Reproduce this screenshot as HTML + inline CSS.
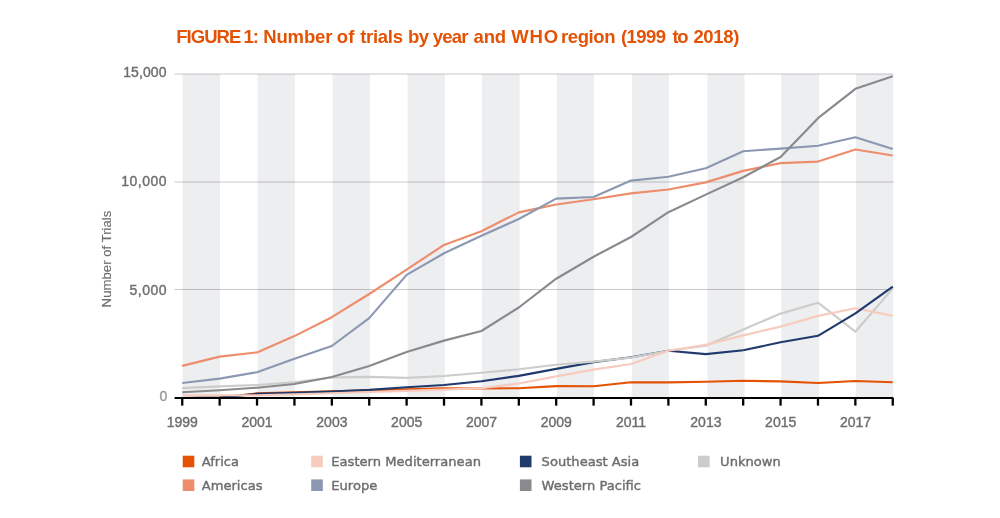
<!DOCTYPE html>
<html lang="en"><head><meta charset="utf-8"><title>FIGURE 1: Number of trials by year and WHO region (1999 to 2018)</title>
<style>html,body{margin:0;padding:0;background:#fff}body{width:1000px;height:518px;overflow:hidden}</style></head>
<body>
<svg width="1000" height="518" viewBox="0 0 1000 518" style="display:block">
<rect width="1000" height="518" fill="#fff"/>
<rect x="182.65" y="74" width="37.35" height="324" fill="#EDEEF0"/>
<rect x="257.6" y="74" width="37.40" height="324" fill="#EDEEF0"/>
<rect x="332.6" y="74" width="37.40" height="324" fill="#EDEEF0"/>
<rect x="407.6" y="74" width="37.40" height="324" fill="#EDEEF0"/>
<rect x="482" y="74" width="37.60" height="324" fill="#EDEEF0"/>
<rect x="557" y="74" width="37.00" height="324" fill="#EDEEF0"/>
<rect x="632" y="74" width="37.00" height="324" fill="#EDEEF0"/>
<rect x="707.4" y="74" width="37.10" height="324" fill="#EDEEF0"/>
<rect x="781.3" y="74" width="37.70" height="324" fill="#EDEEF0"/>
<rect x="856.1" y="74" width="37.10" height="324" fill="#EDEEF0"/>
<line x1="174.5" x2="893.3" y1="74" y2="74" stroke="#000" stroke-opacity="0.21" stroke-width="1"/>
<line x1="174.5" x2="893.3" y1="182" y2="182" stroke="#000" stroke-opacity="0.21" stroke-width="1"/>
<line x1="174.5" x2="893.3" y1="289.5" y2="289.5" stroke="#000" stroke-opacity="0.21" stroke-width="1"/>
<polyline points="182.2,398.0 219.6,397.6 257.0,393.4 294.4,392.4 331.8,391.2 369.2,390.4 406.6,389.3 444.0,388.3 481.4,388.5 518.8,388.2 556.2,386.1 593.6,386.2 631.0,382.3 668.4,382.3 705.8,381.7 743.2,380.7 780.6,381.4 818.0,383.0 855.4,381.0 892.8,382.2" fill="none" stroke="#E35205" stroke-width="2.15" stroke-linejoin="round" stroke-linecap="butt"/>
<polyline points="182.2,398.0 219.6,397.6 257.0,393.9 294.4,392.9 331.8,391.5 369.2,389.9 406.6,387.2 444.0,385.0 481.4,381.2 518.8,375.9 556.2,368.9 593.6,362.1 631.0,357.2 668.4,350.8" fill="none" stroke="#1F3A6C" stroke-width="2.15" stroke-linejoin="round" stroke-linecap="butt"/>
<polyline points="182.2,388.1 219.6,386.4 257.0,385.0 294.4,382.2 331.8,377.5 369.2,376.9 406.6,377.9 444.0,376.0 481.4,372.8 518.8,369.3 556.2,364.8 593.6,361.6 631.0,357.6 668.4,350.8 705.8,345.7 743.2,329.5 780.6,313.6 818.0,302.7 855.4,331.7 892.8,288.4" fill="none" stroke="#CCCCCA" stroke-width="2.15" stroke-linejoin="round" stroke-linecap="butt"/>
<polyline points="668.4,350.8 705.8,354.1 743.2,350.2" fill="none" stroke="#1F3A6C" stroke-width="2.15" stroke-linejoin="round" stroke-linecap="butt"/>
<polyline points="182.2,395.2 219.6,395.3 257.0,395.3 294.4,394.4 331.8,393.3 369.2,392.0 406.6,390.9 444.0,389.6 481.4,388.3 518.8,383.5 556.2,376.4 593.6,369.6 631.0,364.0 668.4,350.8 705.8,344.9 743.2,335.4 780.6,326.6 818.0,315.9 855.4,308.3 892.8,315.9" fill="none" stroke="#F7CBBD" stroke-width="2.15" stroke-linejoin="round" stroke-linecap="butt"/>
<polyline points="743.2,350.2 780.6,342.3 818.0,335.8 855.4,313.4 892.8,286.6" fill="none" stroke="#1F3A6C" stroke-width="2.15" stroke-linejoin="round" stroke-linecap="butt"/>
<polyline points="182.2,365.9 219.6,356.6 257.0,352.4 294.4,336.1 331.8,317.2 369.2,294.0 406.6,269.6 444.0,244.9 481.4,231.2 518.8,212.4 556.2,204.5 593.6,199.3 631.0,193.4 668.4,189.5 705.8,182.4 743.2,170.9 780.6,163.1 818.0,161.6 855.4,149.5 892.8,155.5" fill="none" stroke="#EE8D6C" stroke-width="2.15" stroke-linejoin="round" stroke-linecap="butt"/>
<polyline points="182.2,383.0 219.6,378.6 257.0,372.2 294.4,358.8 331.8,346.0 369.2,318.1 406.6,274.9 444.0,253.3 481.4,235.8 518.8,219.0 556.2,198.6 593.6,197.0 631.0,180.6 668.4,176.8 705.8,168.3 743.2,151.2 780.6,148.6 818.0,145.8 855.4,137.3 892.8,149.0" fill="none" stroke="#8C98B1" stroke-width="2.15" stroke-linejoin="round" stroke-linecap="butt"/>
<polyline points="182.2,392.2 219.6,390.3 257.0,387.7 294.4,384.0 331.8,377.0 369.2,366.0 406.6,352.0 444.0,340.6 481.4,331.0 518.8,307.5 556.2,278.7 593.6,256.7 631.0,237.0 668.4,212.2 705.8,194.6 743.2,177.2 780.6,157.0 818.0,118.2 855.4,88.8 892.8,76.3" fill="none" stroke="#898A8D" stroke-width="2.15" stroke-linejoin="round" stroke-linecap="butt"/>
<line x1="174.6" x2="893.4" y1="398" y2="398" stroke="#000" stroke-width="2.1"/>
<line x1="182.25" x2="182.25" y1="398" y2="405.6" stroke="#000" stroke-width="2.3"/>
<line x1="219.65" x2="219.65" y1="398" y2="405.6" stroke="#000" stroke-width="2.3"/>
<line x1="257.04" x2="257.04" y1="398" y2="405.6" stroke="#000" stroke-width="2.3"/>
<line x1="294.44" x2="294.44" y1="398" y2="405.6" stroke="#000" stroke-width="2.3"/>
<line x1="331.83" x2="331.83" y1="398" y2="405.6" stroke="#000" stroke-width="2.3"/>
<line x1="369.23" x2="369.23" y1="398" y2="405.6" stroke="#000" stroke-width="2.3"/>
<line x1="406.62" x2="406.62" y1="398" y2="405.6" stroke="#000" stroke-width="2.3"/>
<line x1="444.02" x2="444.02" y1="398" y2="405.6" stroke="#000" stroke-width="2.3"/>
<line x1="481.41" x2="481.41" y1="398" y2="405.6" stroke="#000" stroke-width="2.3"/>
<line x1="518.81" x2="518.81" y1="398" y2="405.6" stroke="#000" stroke-width="2.3"/>
<line x1="556.20" x2="556.20" y1="398" y2="405.6" stroke="#000" stroke-width="2.3"/>
<line x1="593.60" x2="593.60" y1="398" y2="405.6" stroke="#000" stroke-width="2.3"/>
<line x1="630.99" x2="630.99" y1="398" y2="405.6" stroke="#000" stroke-width="2.3"/>
<line x1="668.38" x2="668.38" y1="398" y2="405.6" stroke="#000" stroke-width="2.3"/>
<line x1="705.78" x2="705.78" y1="398" y2="405.6" stroke="#000" stroke-width="2.3"/>
<line x1="743.18" x2="743.18" y1="398" y2="405.6" stroke="#000" stroke-width="2.3"/>
<line x1="780.57" x2="780.57" y1="398" y2="405.6" stroke="#000" stroke-width="2.3"/>
<line x1="817.97" x2="817.97" y1="398" y2="405.6" stroke="#000" stroke-width="2.3"/>
<line x1="855.36" x2="855.36" y1="398" y2="405.6" stroke="#000" stroke-width="2.3"/>
<line x1="892.76" x2="892.76" y1="398" y2="405.6" stroke="#000" stroke-width="2.3"/>
<text x="182.3" y="426.6" text-anchor="middle" font-family="'Liberation Sans', sans-serif" font-size="14" fill="#6D6E71" stroke="#6D6E71" stroke-width="0.4">1999</text>
<text x="257.1" y="426.6" text-anchor="middle" font-family="'Liberation Sans', sans-serif" font-size="14" fill="#6D6E71" stroke="#6D6E71" stroke-width="0.4">2001</text>
<text x="331.9" y="426.6" text-anchor="middle" font-family="'Liberation Sans', sans-serif" font-size="14" fill="#6D6E71" stroke="#6D6E71" stroke-width="0.4">2003</text>
<text x="406.7" y="426.6" text-anchor="middle" font-family="'Liberation Sans', sans-serif" font-size="14" fill="#6D6E71" stroke="#6D6E71" stroke-width="0.4">2005</text>
<text x="481.5" y="426.6" text-anchor="middle" font-family="'Liberation Sans', sans-serif" font-size="14" fill="#6D6E71" stroke="#6D6E71" stroke-width="0.4">2007</text>
<text x="556.3" y="426.6" text-anchor="middle" font-family="'Liberation Sans', sans-serif" font-size="14" fill="#6D6E71" stroke="#6D6E71" stroke-width="0.4">2009</text>
<text x="631.1" y="426.6" text-anchor="middle" font-family="'Liberation Sans', sans-serif" font-size="14" fill="#6D6E71" stroke="#6D6E71" stroke-width="0.4">2011</text>
<text x="705.9" y="426.6" text-anchor="middle" font-family="'Liberation Sans', sans-serif" font-size="14" fill="#6D6E71" stroke="#6D6E71" stroke-width="0.4">2013</text>
<text x="780.7" y="426.6" text-anchor="middle" font-family="'Liberation Sans', sans-serif" font-size="14" fill="#6D6E71" stroke="#6D6E71" stroke-width="0.4">2015</text>
<text x="855.5" y="426.6" text-anchor="middle" font-family="'Liberation Sans', sans-serif" font-size="14" fill="#6D6E71" stroke="#6D6E71" stroke-width="0.4">2017</text>
<text x="166.6" y="77.0" text-anchor="end" font-family="'Liberation Sans', sans-serif" font-size="14" letter-spacing="0.1" fill="#6D6E71" stroke="#6D6E71" stroke-width="0.4">15,000</text>
<text x="167" y="186.3" text-anchor="end" font-family="'Liberation Sans', sans-serif" font-size="14" letter-spacing="0.5" fill="#6D6E71" stroke="#6D6E71" stroke-width="0.4">10,000</text>
<text x="167" y="294.6" text-anchor="end" font-family="'Liberation Sans', sans-serif" font-size="14" letter-spacing="0.5" fill="#6D6E71" stroke="#6D6E71" stroke-width="0.4">5,000</text>
<text x="167.8" y="401.4" text-anchor="end" font-family="'Liberation Sans', sans-serif" font-size="14" letter-spacing="0.5" fill="#98999C" stroke="#98999C" stroke-width="0.4">0</text>
<text transform="translate(111.2,259) rotate(-90)" text-anchor="middle" font-family="'Liberation Sans', sans-serif" font-size="13.2" fill="#6D6E71" stroke="#6D6E71" stroke-width="0.15">Number of Trials</text>
<text y="43.3" font-family="'Liberation Sans', sans-serif" font-size="18.5" font-weight="bold" fill="#E35205"><tspan x="176.2" letter-spacing="-0.94">FIGURE</tspan> <tspan x="243.5" letter-spacing="-1.05">1:</tspan> <tspan x="263.2" letter-spacing="-0.14">Number</tspan> <tspan x="336.75" letter-spacing="0.25">of</tspan> <tspan x="360.25" letter-spacing="-0.31">trials</tspan> <tspan x="408.0" letter-spacing="-0.5">by</tspan> <tspan x="432.8" letter-spacing="-0.77">year</tspan> <tspan x="473.5" letter-spacing="-0.12">and</tspan> <tspan x="511.25" letter-spacing="0.87">WHO</tspan> <tspan x="561.0" letter-spacing="-0.4">region</tspan> <tspan x="621.0" letter-spacing="-0.6">(1999</tspan> <tspan x="672.4" letter-spacing="-1.4">to</tspan> <tspan x="693.4" letter-spacing="-0.35">2018)</tspan></text>
<rect x="182.7" y="455.7" width="11.6" height="11.6" fill="#E35205"/>
<text x="201.7" y="466.4" font-family="'DejaVu Sans', 'Liberation Sans', sans-serif" font-size="13.1" fill="#6D6E71" stroke="#6D6E71" stroke-width="0.4">Africa</text>
<rect x="182.7" y="479.4" width="11.6" height="11.6" fill="#EE8D6C"/>
<text x="201.7" y="490.1" font-family="'DejaVu Sans', 'Liberation Sans', sans-serif" font-size="13.1" fill="#6D6E71" stroke="#6D6E71" stroke-width="0.4">Americas</text>
<rect x="311.2" y="455.7" width="11.6" height="11.6" fill="#F7CBBD"/>
<text x="331.3" y="466.4" font-family="'DejaVu Sans', 'Liberation Sans', sans-serif" font-size="13.1" fill="#6D6E71" stroke="#6D6E71" stroke-width="0.4">Eastern Mediterranean</text>
<rect x="311.2" y="479.4" width="11.6" height="11.6" fill="#8C98B1"/>
<text x="331.3" y="490.1" font-family="'DejaVu Sans', 'Liberation Sans', sans-serif" font-size="13.1" fill="#6D6E71" stroke="#6D6E71" stroke-width="0.4">Europe</text>
<rect x="519.9" y="455.7" width="11.6" height="11.6" fill="#1F3A6C"/>
<text x="541.6" y="466.4" font-family="'DejaVu Sans', 'Liberation Sans', sans-serif" font-size="13.1" fill="#6D6E71" stroke="#6D6E71" stroke-width="0.4">Southeast Asia</text>
<rect x="519.9" y="479.4" width="11.6" height="11.6" fill="#898A8D"/>
<text x="541.6" y="490.1" font-family="'DejaVu Sans', 'Liberation Sans', sans-serif" font-size="13.1" fill="#6D6E71" stroke="#6D6E71" stroke-width="0.4">Western Pacific</text>
<rect x="698.0" y="455.7" width="11.6" height="11.6" fill="#CCCCCA"/>
<text x="720.1" y="466.4" font-family="'DejaVu Sans', 'Liberation Sans', sans-serif" font-size="13.1" fill="#6D6E71" stroke="#6D6E71" stroke-width="0.4">Unknown</text>
</svg>
</body></html>
